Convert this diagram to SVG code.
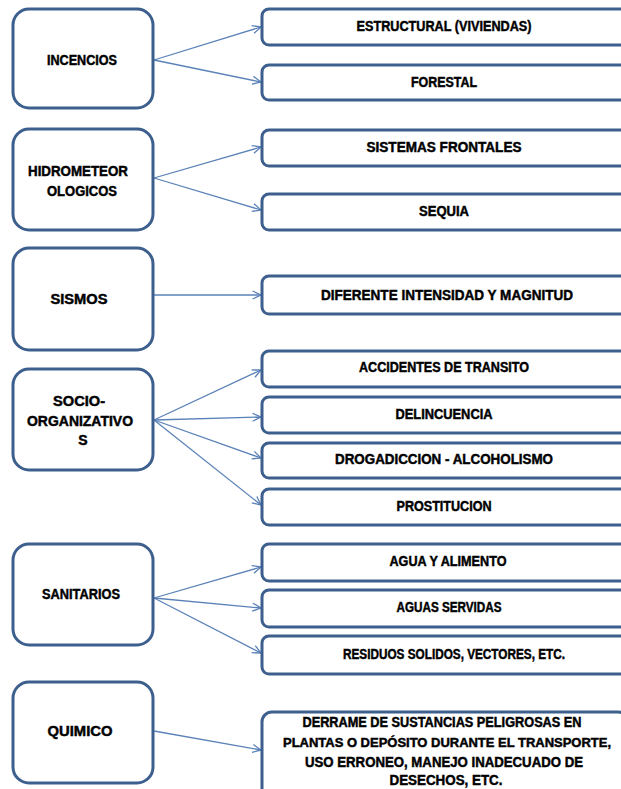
<svg xmlns="http://www.w3.org/2000/svg" width="621" height="789" viewBox="0 0 621 789">
<defs>
<style>
.l{fill:#fff;stroke:#3d5f8d;stroke-width:3}
.r{fill:#fff;stroke:#3d5f8d;stroke-width:3}
.t{font-family:"Liberation Sans",Arial,sans-serif;font-weight:bold;font-size:14px;fill:#000;stroke:#000;stroke-width:0.45;text-anchor:middle}
.c{fill:none;stroke:#5b82b8;stroke-width:1.3}
</style>
<marker id="a" viewBox="0 0 10 10" refX="9.5" refY="5" markerWidth="10" markerHeight="10" markerUnits="userSpaceOnUse" orient="auto">
<path d="M1,1 L9.5,5 L1,9" fill="none" stroke="#5b82b8" stroke-width="1.3"/>
</marker>
</defs>
<rect width="621" height="789" fill="#fff"/>
<g id="connectors">
<line class="c" x1="154" y1="60" x2="261" y2="27" marker-end="url(#a)"/>
<line class="c" x1="154" y1="60" x2="261" y2="82" marker-end="url(#a)"/>
<line class="c" x1="154" y1="178" x2="261" y2="147" marker-end="url(#a)"/>
<line class="c" x1="154" y1="178" x2="261" y2="210" marker-end="url(#a)"/>
<line class="c" x1="154" y1="295" x2="261" y2="295" marker-end="url(#a)"/>
<line class="c" x1="154" y1="420" x2="261" y2="370" marker-end="url(#a)"/>
<line class="c" x1="154" y1="420" x2="261" y2="417" marker-end="url(#a)"/>
<line class="c" x1="154" y1="420" x2="261" y2="458" marker-end="url(#a)"/>
<line class="c" x1="154" y1="420" x2="261" y2="505" marker-end="url(#a)"/>
<line class="c" x1="154" y1="598" x2="261" y2="567" marker-end="url(#a)"/>
<line class="c" x1="154" y1="598" x2="261" y2="608" marker-end="url(#a)"/>
<line class="c" x1="154" y1="598" x2="261" y2="653" marker-end="url(#a)"/>
<line class="c" x1="154" y1="731" x2="261" y2="750" marker-end="url(#a)"/>
</g>
<g id="n-incencios"><rect class="l" x="13" y="9" width="140" height="99" rx="16"/><text class="t" x="82" y="65" textLength="70" lengthAdjust="spacingAndGlyphs">INCENCIOS</text></g>
<g id="n-hidro"><rect class="l" x="13" y="129" width="140" height="101" rx="16"/><text class="t" x="78" y="176" textLength="100" lengthAdjust="spacingAndGlyphs">HIDROMETEOR</text><text class="t" x="82" y="196" textLength="70" lengthAdjust="spacingAndGlyphs">OLOGICOS</text></g>
<g id="n-sismos"><rect class="l" x="13" y="248" width="140" height="102" rx="16"/><text class="t" x="79" y="304" textLength="57" lengthAdjust="spacingAndGlyphs">SISMOS</text></g>
<g id="n-socio"><rect class="l" x="13" y="369" width="140" height="101" rx="16"/><text class="t" x="79" y="406" textLength="52" lengthAdjust="spacingAndGlyphs">SOCIO-</text><text class="t" x="80" y="426" textLength="106" lengthAdjust="spacingAndGlyphs">ORGANIZATIVO</text><text class="t" x="83" y="445">S</text></g>
<g id="n-sanitarios"><rect class="l" x="13" y="544" width="140" height="101" rx="16"/><text class="t" x="81" y="599" textLength="78" lengthAdjust="spacingAndGlyphs">SANITARIOS</text></g>
<g id="n-quimico"><rect class="l" x="13" y="682" width="140" height="101" rx="16"/><text class="t" x="80" y="736" textLength="65" lengthAdjust="spacingAndGlyphs">QUIMICO</text></g>
<g id="n-estructural"><rect class="r" x="262" y="9" width="366" height="36" rx="7"/><text class="t" x="444" y="31" textLength="175" lengthAdjust="spacingAndGlyphs">ESTRUCTURAL (VIVIENDAS)</text></g>
<g id="n-forestal"><rect class="r" x="262" y="65" width="366" height="35" rx="7"/><text class="t" x="444" y="87" textLength="66" lengthAdjust="spacingAndGlyphs">FORESTAL</text></g>
<g id="n-sistemas"><rect class="r" x="262" y="130" width="366" height="36" rx="7"/><text class="t" x="444" y="152" textLength="155" lengthAdjust="spacingAndGlyphs">SISTEMAS FRONTALES</text></g>
<g id="n-sequia"><rect class="r" x="262" y="194" width="366" height="36" rx="7"/><text class="t" x="444" y="216" textLength="50" lengthAdjust="spacingAndGlyphs">SEQUIA</text></g>
<g id="n-diferente"><rect class="r" x="262" y="276" width="366" height="38" rx="7"/><text class="t" x="447" y="300" textLength="252" lengthAdjust="spacingAndGlyphs">DIFERENTE  INTENSIDAD  Y MAGNITUD</text></g>
<g id="n-accidentes"><rect class="r" x="262" y="351" width="366" height="36" rx="7"/><text class="t" x="444" y="372" textLength="170" lengthAdjust="spacingAndGlyphs">ACCIDENTES  DE TRANSITO</text></g>
<g id="n-delincuencia"><rect class="r" x="262" y="397" width="366" height="36" rx="7"/><text class="t" x="444" y="419" textLength="97" lengthAdjust="spacingAndGlyphs">DELINCUENCIA</text></g>
<g id="n-drogadiccion"><rect class="r" x="262" y="443" width="366" height="35" rx="7"/><text class="t" x="444" y="464" textLength="218" lengthAdjust="spacingAndGlyphs">DROGADICCION  - ALCOHOLISMO</text></g>
<g id="n-prostitucion"><rect class="r" x="262" y="489" width="366" height="36" rx="7"/><text class="t" x="444" y="511" textLength="95" lengthAdjust="spacingAndGlyphs">PROSTITUCION</text></g>
<g id="n-agua"><rect class="r" x="262" y="544" width="366" height="37" rx="7"/><text class="t" x="448" y="566" textLength="117" lengthAdjust="spacingAndGlyphs">AGUA Y ALIMENTO</text></g>
<g id="n-aguas"><rect class="r" x="262" y="590" width="366" height="37" rx="7"/><text class="t" x="449" y="612" textLength="105" lengthAdjust="spacingAndGlyphs">AGUAS SERVIDAS</text></g>
<g id="n-residuos"><rect class="r" x="262" y="636" width="366" height="38" rx="7"/><text class="t" x="454" y="659" textLength="222" lengthAdjust="spacingAndGlyphs">RESIDUOS SOLIDOS, VECTORES,  ETC.</text></g>
<g id="n-derrame"><rect class="r" x="262" y="712" width="366" height="90" rx="10"/>
<text class="t" x="442" y="727" textLength="279" lengthAdjust="spacingAndGlyphs">DERRAME DE SUSTANCIAS  PELIGROSAS EN</text>
<text class="t" x="447" y="747" style="font-size:12.5px" textLength="328" lengthAdjust="spacingAndGlyphs">PLANTAS O DEPÓSITO DURANTE EL TRANSPORTE,</text>
<text class="t" x="444" y="767" textLength="278" lengthAdjust="spacingAndGlyphs">USO ERRONEO,  MANEJO  INADECUADO DE</text>
<text class="t" x="446" y="785" textLength="113" lengthAdjust="spacingAndGlyphs">DESECHOS, ETC.</text>
</g>
</svg>
